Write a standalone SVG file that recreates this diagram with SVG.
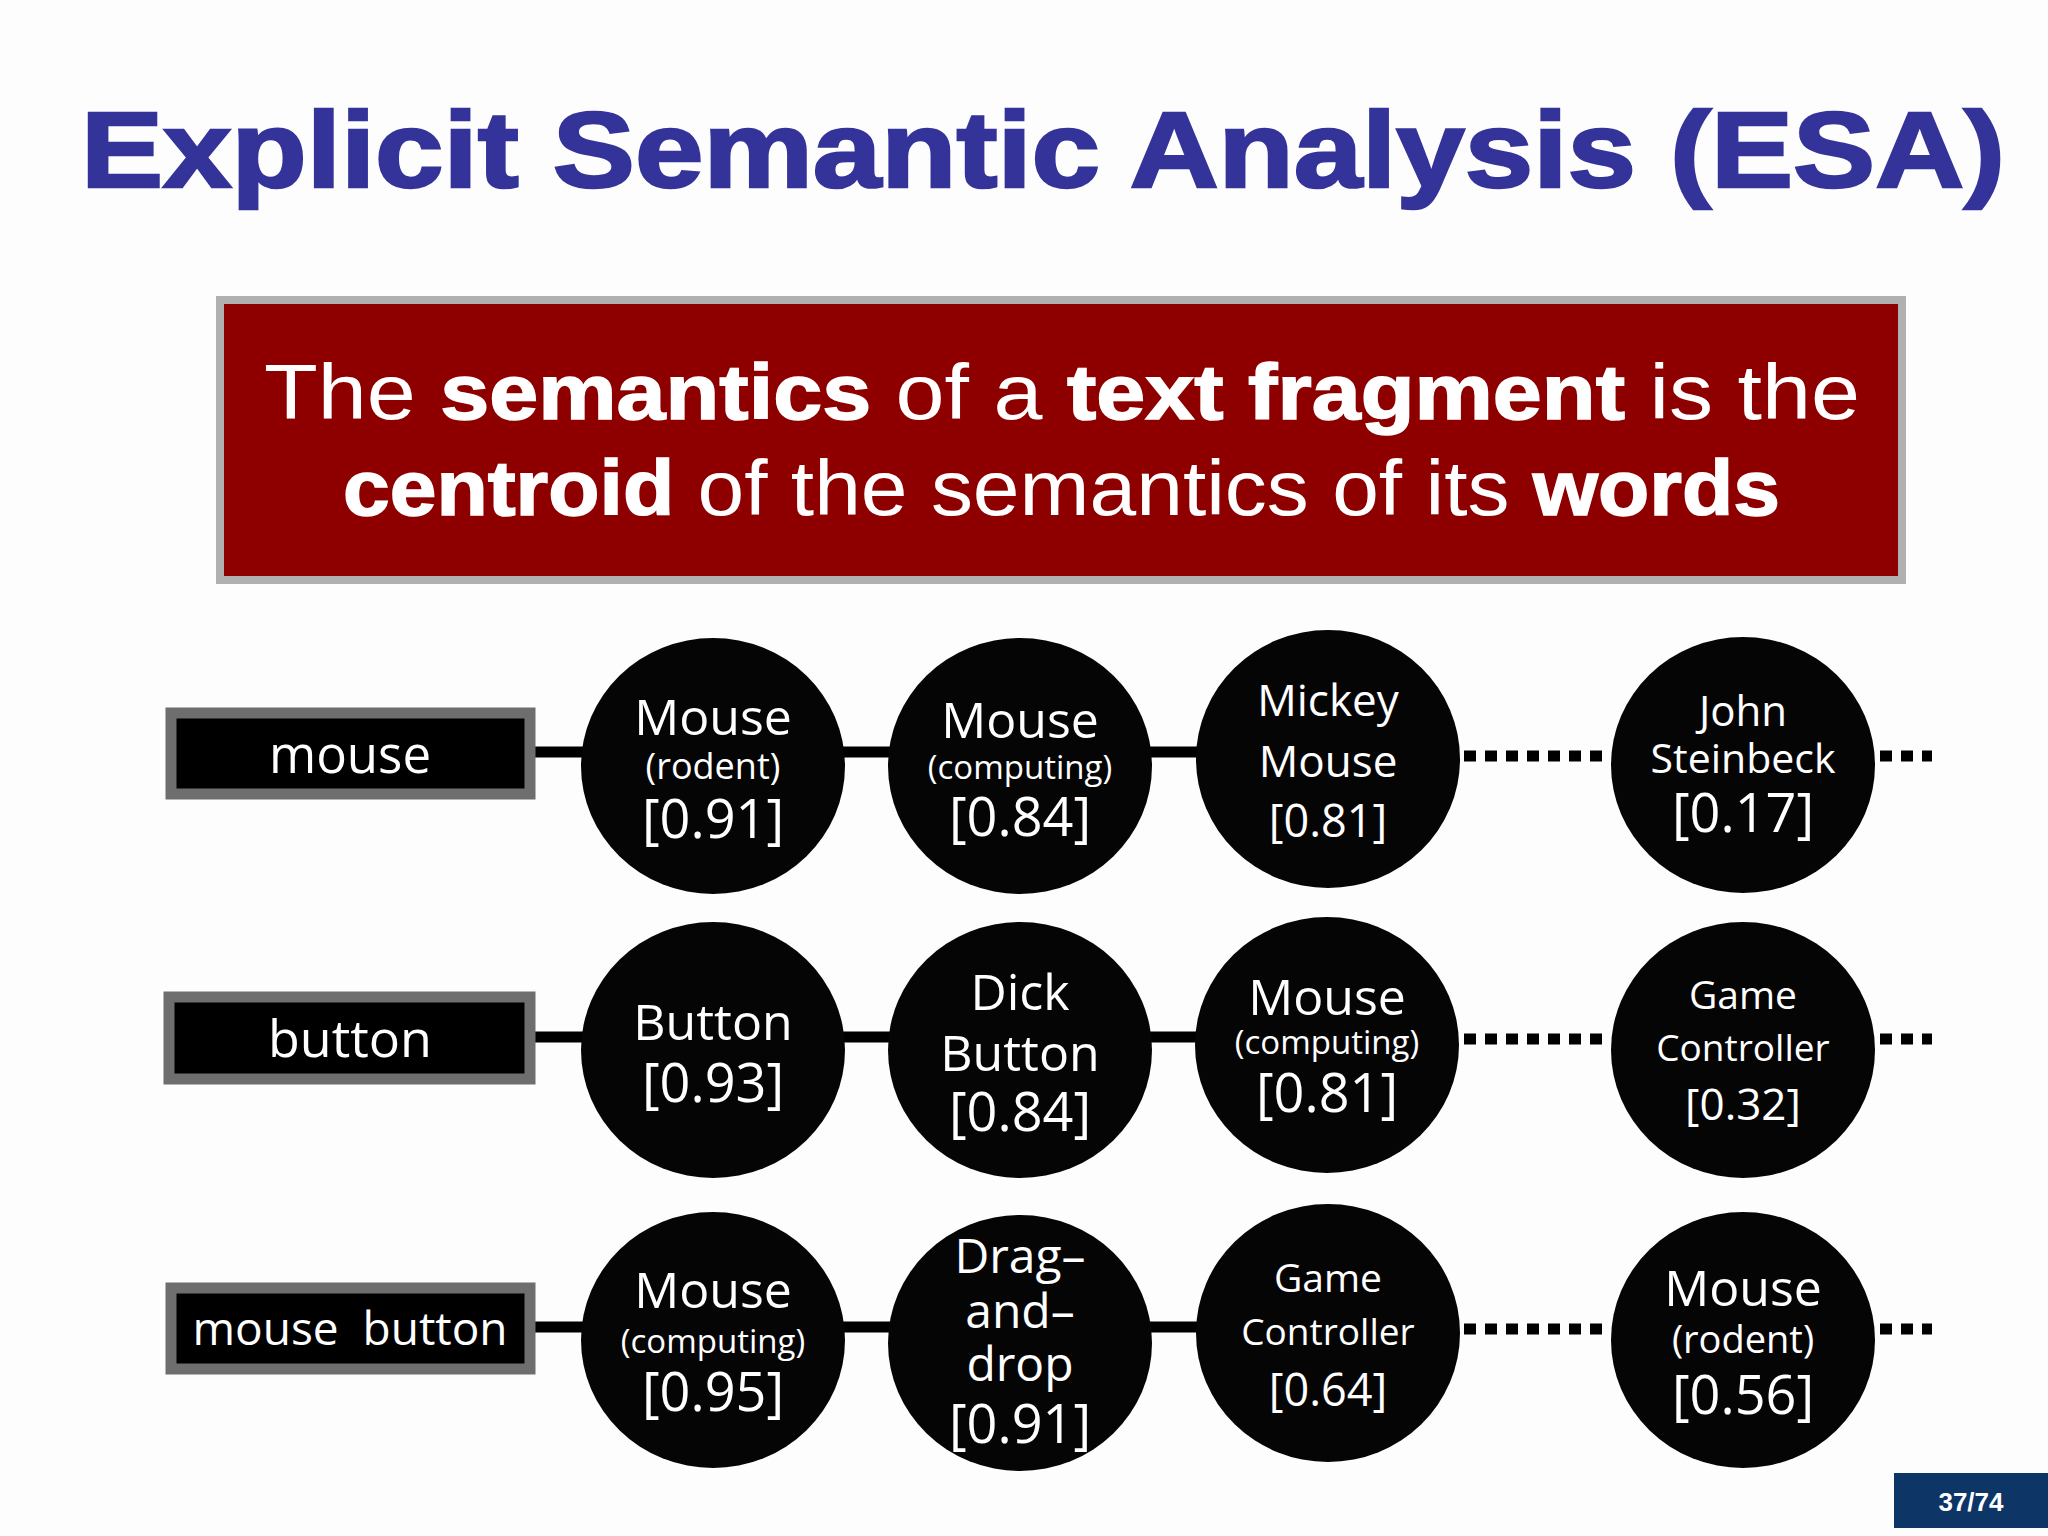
<svg xmlns="http://www.w3.org/2000/svg" width="2048" height="1536" viewBox="0 0 2048 1536">
<style>
.title{font-family:"Liberation Sans",Arial,sans-serif;font-weight:700;font-size:107px;fill:#333399;stroke:#333399;stroke-width:2.5}
.claim{font-family:"Liberation Sans",Arial,sans-serif;font-size:78px;fill:#fff}
.b{font-weight:700;stroke:#fff;stroke-width:1.5}
.lbl rect{fill:#000;stroke:#6e6e6e;stroke-width:11}
.lbl text{font-family:"Open Sans","DejaVu Sans",sans-serif;fill:#fff;text-anchor:middle}
.node ellipse{fill:#050505}
.node text{font-family:"Open Sans","DejaVu Sans",sans-serif;fill:#fff;text-anchor:middle}
.solid{stroke:#000;stroke-width:11;fill:none}
.dot{stroke:#000;stroke-width:11;fill:none;stroke-dasharray:12 9}
</style>
<rect width="2048" height="1536" fill="#fdfdfd"/>
<text class="title" x="81" y="187" textLength="1924" lengthAdjust="spacingAndGlyphs">Explicit Semantic Analysis (ESA)</text>
<g id="claim">
<rect x="220" y="300" width="1682" height="280" fill="#8e0000" stroke="#b0b0b0" stroke-width="8"/>
<text class="claim" x="264" y="419" textLength="1596" lengthAdjust="spacingAndGlyphs">The <tspan class="b">semantics</tspan> of a <tspan class="b">text fragment</tspan> is the</text>
<text class="claim" x="343" y="515" textLength="1437" lengthAdjust="spacingAndGlyphs"><tspan class="b">centroid</tspan> of the semantics of its <tspan class="b">words</tspan></text>
</g>
<g id="connectors">
<line class="solid" x1="535" y1="752" x2="590" y2="752"/>
<line class="solid" x1="840" y1="752" x2="895" y2="752"/>
<line class="solid" x1="1145" y1="752" x2="1205" y2="752"/>
<line class="dot" x1="1464" y1="756" x2="1611" y2="756"/>
<line class="dot" x1="1880" y1="756" x2="1932" y2="756"/>
<line class="solid" x1="535" y1="1037" x2="590" y2="1037"/>
<line class="solid" x1="840" y1="1037" x2="895" y2="1037"/>
<line class="solid" x1="1145" y1="1037" x2="1205" y2="1037"/>
<line class="dot" x1="1464" y1="1039" x2="1611" y2="1039"/>
<line class="dot" x1="1880" y1="1039" x2="1932" y2="1039"/>
<line class="solid" x1="535" y1="1327" x2="590" y2="1327"/>
<line class="solid" x1="840" y1="1327" x2="895" y2="1327"/>
<line class="solid" x1="1145" y1="1327" x2="1205" y2="1327"/>
<line class="dot" x1="1464" y1="1329" x2="1611" y2="1329"/>
<line class="dot" x1="1880" y1="1329" x2="1932" y2="1329"/>
</g>
<g id="lbl-mouse" class="lbl"><rect x="171" y="713" width="359" height="81"/><text x="350" y="773" font-size="51">mouse</text></g>
<g id="lbl-button" class="lbl"><rect x="169" y="997" width="361" height="82"/><text x="350" y="1057" font-size="52">button</text></g>
<g id="lbl-mousebutton" class="lbl"><rect x="171" y="1288" width="359" height="81"/><text x="350" y="1345" font-size="46" xml:space="preserve">mouse  button</text></g>

<g id="n1" class="node"><ellipse cx="713" cy="766" rx="132" ry="128"/><text x="713" y="735" font-size="50">Mouse</text><text x="713" y="779" font-size="36">(rodent)</text><text x="713" y="838" font-size="54">[0.91]</text></g>
<g id="n2" class="node"><ellipse cx="1020" cy="766" rx="132" ry="128"/><text x="1020" y="738" font-size="50">Mouse</text><text x="1020" y="779" font-size="33">(computing)</text><text x="1020" y="836" font-size="54">[0.84]</text></g>
<g id="n3" class="node"><ellipse cx="1328" cy="759" rx="132" ry="129"/><text x="1328" y="716" font-size="44">Mickey</text><text x="1328" y="777" font-size="44">Mouse</text><text x="1328" y="837" font-size="45">[0.81]</text></g>
<g id="n4" class="node"><ellipse cx="1743" cy="765" rx="132" ry="128"/><text x="1743" y="726" font-size="42">John</text><text x="1743" y="773" font-size="41">Steinbeck</text><text x="1743" y="832" font-size="54">[0.17]</text></g>

<g id="n5" class="node"><ellipse cx="713" cy="1050" rx="132" ry="128"/><text x="713" y="1040" font-size="50">Button</text><text x="713" y="1102" font-size="54">[0.93]</text></g>
<g id="n6" class="node"><ellipse cx="1020" cy="1050" rx="132" ry="128"/><text x="1020" y="1010" font-size="50">Dick</text><text x="1020" y="1071" font-size="50">Button</text><text x="1020" y="1131" font-size="54">[0.84]</text></g>
<g id="n7" class="node"><ellipse cx="1327" cy="1045" rx="132" ry="128"/><text x="1327" y="1015" font-size="50">Mouse</text><text x="1327" y="1054" font-size="33">(computing)</text><text x="1327" y="1112" font-size="54">[0.81]</text></g>
<g id="n8" class="node"><ellipse cx="1743" cy="1050" rx="132" ry="128"/><text x="1743" y="1009" font-size="39">Game</text><text x="1743" y="1061" font-size="37">Controller</text><text x="1743" y="1120" font-size="44">[0.32]</text></g>

<g id="n9" class="node"><ellipse cx="713" cy="1340" rx="132" ry="128"/><text x="713" y="1308" font-size="50">Mouse</text><text x="713" y="1353" font-size="33">(computing)</text><text x="713" y="1411" font-size="54">[0.95]</text></g>
<g id="n10" class="node"><ellipse cx="1020" cy="1343" rx="132" ry="128"/><text x="1020" y="1273" font-size="48">Drag–</text><text x="1020" y="1328" font-size="48">and–</text><text x="1020" y="1381" font-size="48">drop</text><text x="1020" y="1443" font-size="54">[0.91]</text></g>
<g id="n11" class="node"><ellipse cx="1328" cy="1333" rx="132" ry="129"/><text x="1328" y="1292" font-size="39">Game</text><text x="1328" y="1345" font-size="37">Controller</text><text x="1328" y="1406" font-size="45">[0.64]</text></g>
<g id="n12" class="node"><ellipse cx="1743" cy="1340" rx="132" ry="128"/><text x="1743" y="1306" font-size="50">Mouse</text><text x="1743" y="1353" font-size="38">(rodent)</text><text x="1743" y="1414" font-size="54">[0.56]</text></g>

<g id="page">
<rect x="1894" y="1473" width="154" height="55" fill="#0d3566"/>
<text x="1971" y="1511" font-family="'Liberation Sans',Arial,sans-serif" font-weight="700" font-size="26" fill="#fff" text-anchor="middle">37/74</text>
</g>
</svg>
